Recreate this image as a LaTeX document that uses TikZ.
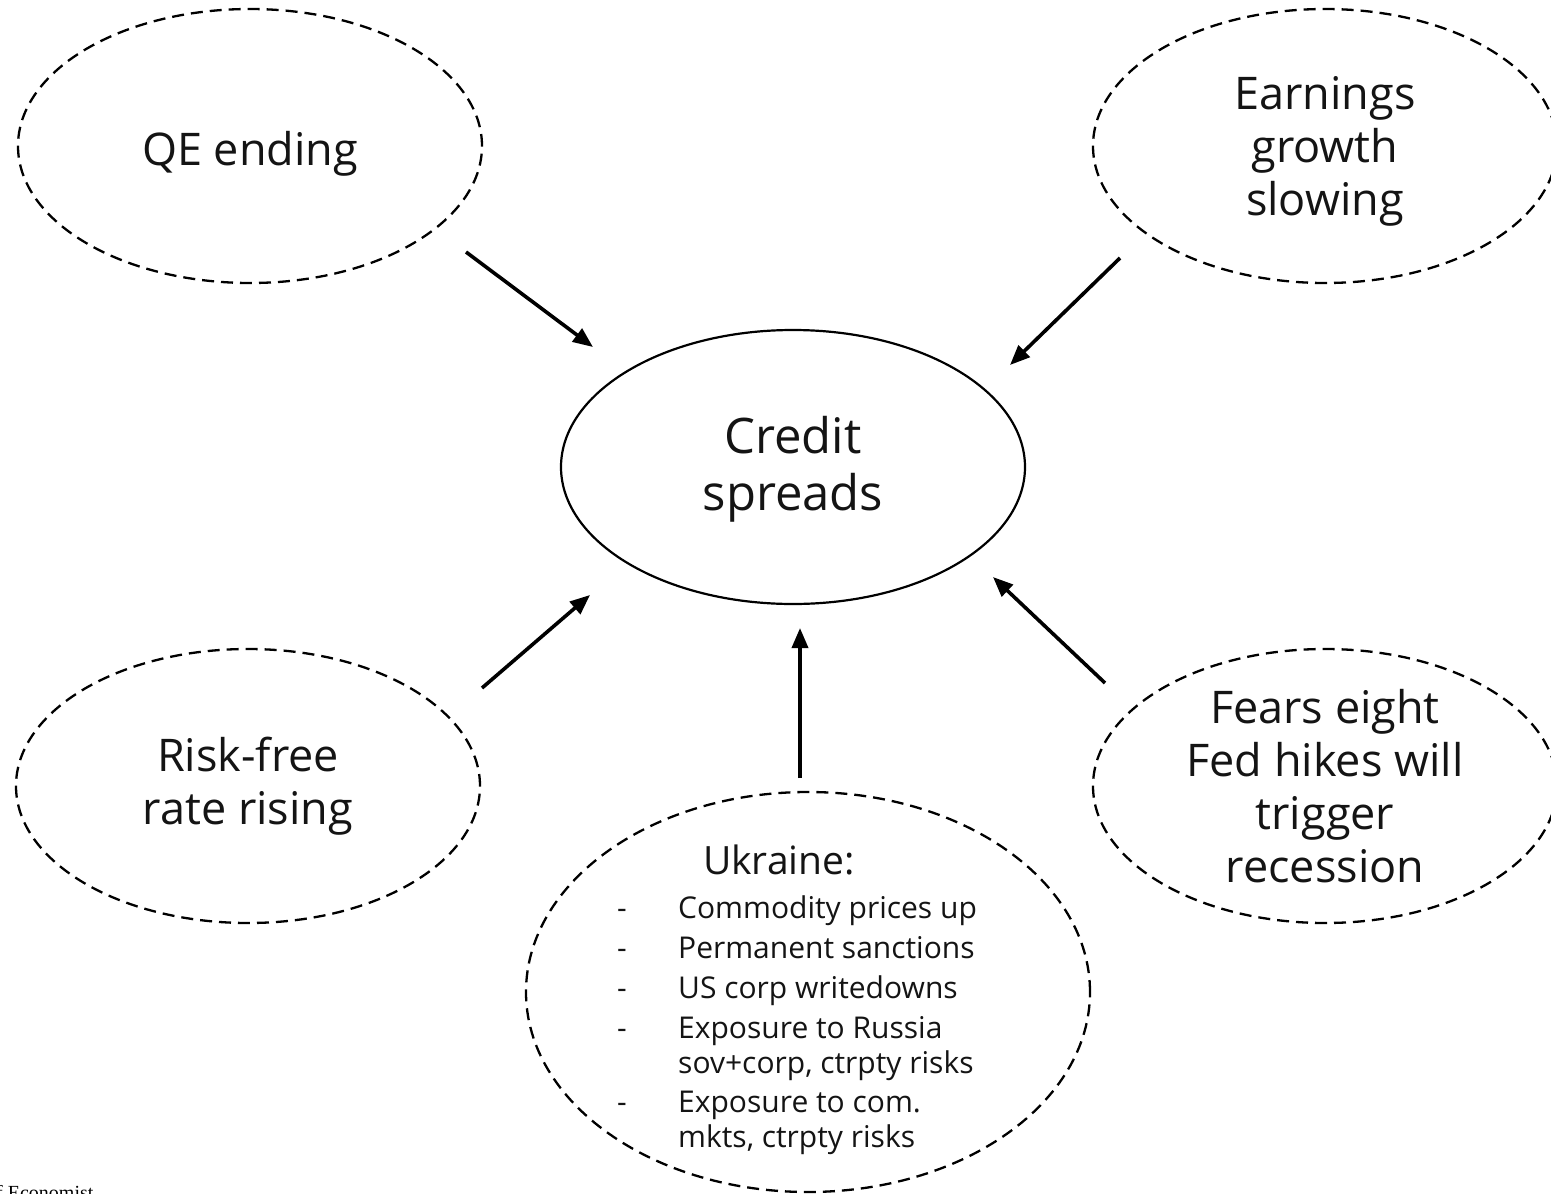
\documentclass[tikz,border=0pt]{standalone}
\usepackage{fontspec}
\setmainfont{Open Sans}
\newfontfamily\fuentefont{Liberation Serif}
\usetikzlibrary{arrows.meta, positioning, shapes.geometric}
\definecolor{tinta}{RGB}{20,20,20}

\begin{document}
\begin{tikzpicture}[
  x=1pt, y=-1pt,
  nube/.style={draw, ellipse, dash pattern=on 12pt off 7pt, line width=2.3pt,
               minimum width=464pt, minimum height=274pt, inner sep=0pt},
  centro/.style={draw, ellipse, line width=2.2pt,
               minimum width=464pt, minimum height=274pt, inner sep=0pt},
  texto/.style={align=center, inner sep=0pt, text=tinta,
               font=\fontsize{45}{53}\selectfont},
  flecha/.style={-{Triangle[length=20pt, width=16pt]}, line width=3.6pt}
]
\useasboundingbox (0,0) rectangle (1551,1194);

% ellipses
\node[centro] (cs) at (793,467) {};
\node[nube] (qe) at (250,146) {};
\node[nube] (earn) at (1325,146) {};
\node[nube] (rf) at (248,786) {};
\node[nube] (fed) at (1325,786) {};
\node[nube, minimum width=564pt, minimum height=400pt] (ukr) at (808,992) {};

% texts
\node[texto, font=\fontsize{49}{57}\selectfont] (cstxt) at ([yshift=-2pt]cs) {Credit\\spreads};
\node[texto] (qetxt) at ([yshift=-8pt]qe) {QE ending};
\node[texto] (earntxt) at ([yshift=-5pt]earn) {Earnings\\growth\\slowing};
\node[texto] (rftxt) at (rf) {Risk-free\\rate rising};
\node[texto] (fedtxt) at (fed) {Fears eight\\Fed hikes will\\trigger\\recession};
\node[texto, anchor=base, font=\fontsize{39}{45}\selectfont] (ukrtit) at (779,874) {Ukraine:};
\node[texto, anchor=base west, align=left, font=\fontsize{30}{35}\selectfont] (ukrlist) at (617,1147)
  {\makebox[61pt][l]{-}Commodity prices up\\[5pt]
   \makebox[61pt][l]{-}Permanent sanctions\\[5pt]
   \makebox[61pt][l]{-}US corp writedowns\\[5pt]
   \makebox[61pt][l]{-}Exposure to Russia\\
   \hspace*{61pt}sov+corp, ctrpty risks\\[4pt]
   \makebox[61pt][l]{-}Exposure to com.\\
   \hspace*{61pt}mkts, ctrpty risks};
\node[anchor=base west, inner sep=0pt, font=\fuentefont\fontsize{20}{24}\selectfont] (fuente) at (-4,1199) {f Economist};

% arrow ends
\coordinate (qe-a) at (466,252);   \coordinate (qe-b) at (593,347);
\coordinate (earn-a) at (1120,258); \coordinate (earn-b) at (1010,365);
\coordinate (rf-a) at (482,688);   \coordinate (rf-b) at (590,595);
\coordinate (ukr-a) at (800,778);  \coordinate (ukr-b) at (800,628);
\coordinate (fed-a) at (1105,683); \coordinate (fed-b) at (993,577);

\draw[flecha] (qe-a) -- (qe-b);
\draw[flecha] (earn-a) -- (earn-b);
\draw[flecha] (rf-a) -- (rf-b);
\draw[flecha] (ukr-a) -- (ukr-b);
\draw[flecha] (fed-a) -- (fed-b);
\end{tikzpicture}
\end{document}
